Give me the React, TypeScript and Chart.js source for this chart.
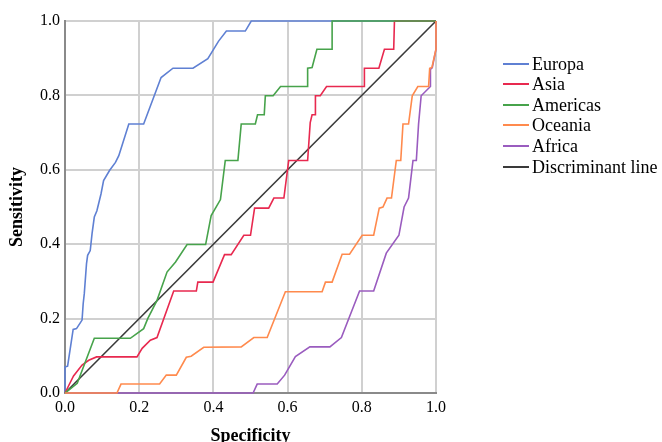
import React, { useEffect, useRef } from 'react';
import { Chart, registerables } from 'chart.js';

Chart.register(...registerables);

// ---- Data ----
const seriesNames = ['Europa', 'Asia', 'Americas', 'Oceania', 'Africa', 'Discriminant line'];
const seriesColors = ['#5f80d3', '#e8294f', '#47a34b', '#ff8a4d', '#9a5cbf', '#3a3a3a'];
// drawing order (lower = drawn on top)
const seriesOrder = [4, 3, 2, 1, 5, 6];

const europaX = [0, 0, 0.007, 0.022, 0.031, 0.046, 0.049, 0.052, 0.058, 0.061, 0.068, 0.073, 0.079, 0.086, 0.097, 0.104, 0.12, 0.136, 0.145, 0.172, 0.212, 0.259, 0.291, 0.345, 0.385, 0.414, 0.435, 0.486, 0.502, 1];
const europaY = [0, 0.07, 0.072, 0.171, 0.173, 0.196, 0.24, 0.267, 0.348, 0.37, 0.383, 0.429, 0.473, 0.49, 0.535, 0.571, 0.598, 0.62, 0.638, 0.723, 0.723, 0.848, 0.873, 0.873, 0.899, 0.946, 0.973, 0.973, 1, 1];

const asiaX = [0, 0.023, 0.046, 0.064, 0.085, 0.194, 0.208, 0.23, 0.248, 0.293, 0.354, 0.358, 0.399, 0.43, 0.448, 0.482, 0.5, 0.511, 0.549, 0.563, 0.59, 0.603, 0.654, 0.661, 0.666, 0.675, 0.675, 0.688, 0.705, 0.807, 0.807, 0.846, 0.861, 0.886, 0.888, 1];
const asiaY = [0, 0.046, 0.075, 0.088, 0.097, 0.097, 0.12, 0.142, 0.149, 0.274, 0.274, 0.298, 0.298, 0.372, 0.372, 0.424, 0.424, 0.497, 0.497, 0.524, 0.524, 0.625, 0.625, 0.727, 0.748, 0.748, 0.799, 0.799, 0.824, 0.824, 0.873, 0.873, 0.924, 0.924, 1, 1];

const americasX = [0, 0.033, 0.079, 0.176, 0.212, 0.223, 0.248, 0.275, 0.298, 0.329, 0.379, 0.394, 0.419, 0.432, 0.466, 0.475, 0.513, 0.519, 0.537, 0.54, 0.561, 0.581, 0.653, 0.654, 0.666, 0.679, 0.72, 0.72, 1];
const americasY = [0, 0.026, 0.147, 0.147, 0.173, 0.2, 0.249, 0.325, 0.352, 0.399, 0.399, 0.477, 0.52, 0.625, 0.625, 0.723, 0.723, 0.748, 0.748, 0.799, 0.799, 0.824, 0.824, 0.873, 0.875, 0.924, 0.924, 1, 1];

const oceaniaX = [0, 0.14, 0.151, 0.255, 0.273, 0.3, 0.327, 0.34, 0.374, 0.475, 0.509, 0.545, 0.594, 0.693, 0.702, 0.72, 0.747, 0.767, 0.801, 0.832, 0.847, 0.857, 0.868, 0.88, 0.893, 0.905, 0.911, 0.926, 0.936, 0.951, 0.98, 0.983, 0.989, 1, 1];
const oceaniaY = [0, 0, 0.024, 0.024, 0.048, 0.048, 0.096, 0.099, 0.123, 0.124, 0.149, 0.149, 0.272, 0.272, 0.298, 0.298, 0.373, 0.373, 0.424, 0.424, 0.497, 0.5, 0.524, 0.524, 0.625, 0.625, 0.723, 0.723, 0.799, 0.824, 0.824, 0.873, 0.875, 0.924, 1];

const africaX = [0, 0.507, 0.518, 0.572, 0.592, 0.621, 0.66, 0.714, 0.745, 0.794, 0.832, 0.866, 0.9, 0.914, 0.926, 0.938, 0.947, 0.953, 0.96, 0.985, 0.985, 0.99, 1, 1];
const africaY = [0, 0, 0.024, 0.024, 0.048, 0.098, 0.124, 0.124, 0.149, 0.274, 0.274, 0.376, 0.424, 0.5, 0.524, 0.625, 0.625, 0.723, 0.799, 0.824, 0.87, 0.875, 0.924, 1];

const discriminantX = [0, 1];
const discriminantY = [0, 1];

const tickValues = [0, 0.2, 0.4, 0.6, 0.8, 1.0];
const tickLabels = ['0.0', '0.2', '0.4', '0.6', '0.8', '1.0'];

const xTitle = 'Specificity';
const yTitle = 'Sensitivity';

const FONT = '"Liberation Serif", "Times New Roman", serif';

const allX = [europaX, asiaX, americasX, oceaniaX, africaX, discriminantX];
const allY = [europaY, asiaY, americasY, oceaniaY, africaY, discriminantY];

function tickLabelFor(v: number): string {
  const i = tickValues.findIndex((t) => Math.abs(t - v) < 1e-6);
  return i >= 0 ? tickLabels[i] : '';
}

export default function App() {
  const ref = useRef<HTMLCanvasElement>(null);

  useEffect(() => {
    const canvas = ref.current;
    if (!canvas) return;
    const datasets = seriesNames.map((name, i) => ({
      label: name,
      data: allX[i].map((x, k) => ({ x, y: allY[i][k] })),
      showLine: true,
      borderColor: seriesColors[i],
      backgroundColor: seriesColors[i],
      borderWidth: 1.6,
      pointRadius: 0,
      pointHoverRadius: 0,
      tension: 0,
      fill: false,
      clip: false,
      order: seriesOrder[i],
    }));

    const axisCommon = (title: string, titlePadding: any) => ({
      type: 'linear' as const,
      min: 0,
      max: 1,
      ticks: {
        stepSize: 0.2,
        color: '#000',
        font: { family: FONT, size: 16 },
        callback: (v: any) => tickLabelFor(Number(v)),
        autoSkip: false,
        maxRotation: 0,
        padding: 5,
      },
      grid: { color: '#d0d0d0', lineWidth: 2, drawTicks: false },
      border: { color: '#8a8a8a', width: 2 },
      title: {
        display: true,
        text: title,
        color: '#000',
        font: { family: FONT, size: 18, weight: 'bold' as const },
        padding: titlePadding,
      },
    });

    const chart = new Chart(canvas, {
      type: 'scatter',
      data: { datasets },
      options: {
        animation: false,
        responsive: false,
        devicePixelRatio: 1,
        layout: { padding: { left: 0, right: 226, top: 21, bottom: 0 } },
        plugins: { legend: { display: false }, tooltip: { enabled: false } },
        scales: {
          x: {
            ...axisCommon(xTitle, { top: 0, bottom: 3 }),
            position: 'bottom',
            afterFit: (s: any) => {
              s.height = 57;
            },
          },
          y: {
            ...axisCommon(yTitle, { top: 7, bottom: 0 }),
            position: 'left',
            afterFit: (s: any) => {
              s.width = 65;
            },
          },
        },
      } as any,
    });
    return () => chart.destroy();
  }, []);

  return (
    <div
      style={{
        position: 'fixed',
        left: 0,
        top: 0,
        width: 662,
        height: 442,
        overflow: 'hidden',
        background: '#fff',
      }}
    >
      <canvas
        ref={ref}
        width={662}
        height={450}
        style={{ position: 'absolute', left: 0, top: 0, width: 662, height: 450 }}
      />
      {seriesNames.map((name, i) => (
        <div
          key={name}
          style={{
            position: 'absolute',
            left: 503,
            top: 53.5 + i * 20.6,
            height: 20,
            display: 'flex',
            alignItems: 'center',
            whiteSpace: 'nowrap',
            fontFamily: FONT,
            fontSize: 18,
            lineHeight: '20px',
            color: '#000',
          }}
        >
          <span
            style={{
              display: 'inline-block',
              width: 26,
              height: 2,
              background: seriesColors[i],
              marginRight: 3,
            }}
          />
          <span>{name}</span>
        </div>
      ))}
    </div>
  );
}
